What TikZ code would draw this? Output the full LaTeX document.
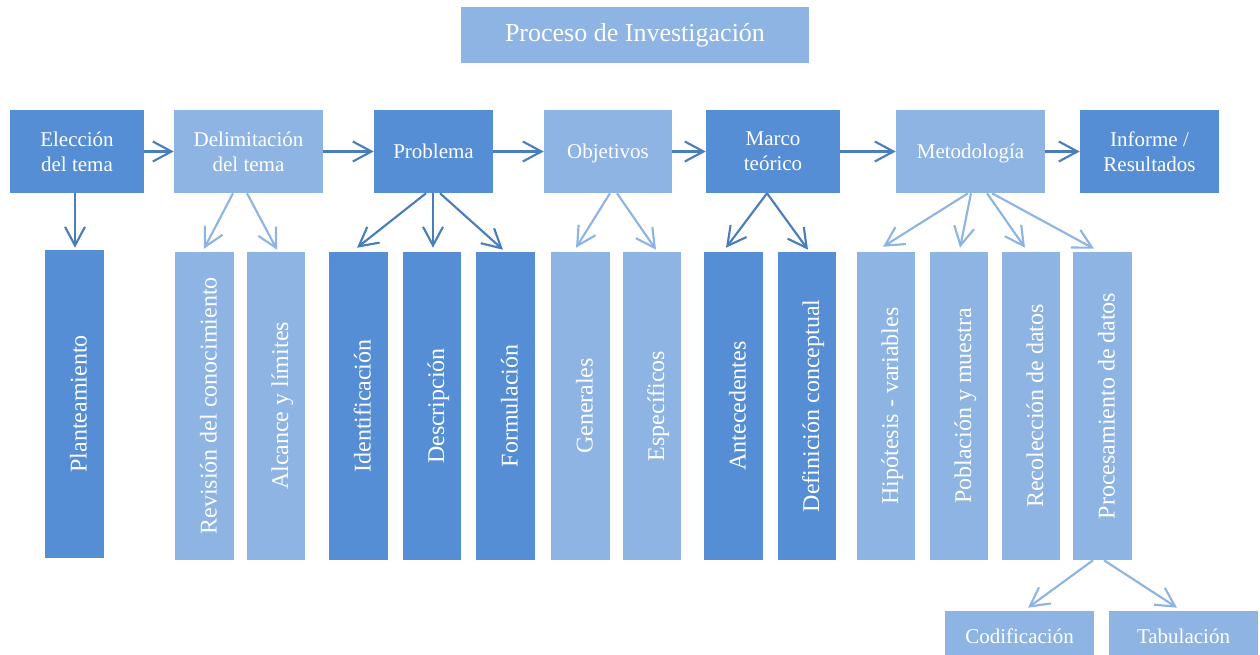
\documentclass[tikz,border=0pt]{standalone}
\usepackage{fontspec}
\setmainfont{Liberation Serif}
\usetikzlibrary{arrows.meta}
\definecolor{dk}{HTML}{558ED5}
\definecolor{lt}{HTML}{8EB4E3}
\definecolor{dka}{HTML}{4A7EBB}
\def\pxu{0.75pt}
\begin{document}
\begin{tikzpicture}[x=0.75pt,y=-0.75pt,
  box/.style={draw=none, inner sep=0pt, text=white, align=center,
    font=\fontsize{15.75}{18.75}\selectfont},
  dkbox/.style={box, fill=dk},
  ltbox/.style={box, fill=lt},
  topbox/.style={minimum height=83*\pxu},
  vbox/.style={minimum width=#1*\pxu, minimum height=308*\pxu},
  vtext/.style={text=white, rotate=90, anchor=base, inner sep=0pt,
    font=\fontsize{18}{21}\selectfont},
  arr/.style={-{Straight Barb[length=14pt,width=15pt]}, line width=1.6pt},
  darr/.style={arr, draw=dka},
  larr/.style={arr, draw=lt}]
\useasboundingbox (0,0) rectangle (1260,655);

% title
\node[ltbox, minimum width=348*\pxu, minimum height=56*\pxu,
  font=\fontsize{19.5}{23}\selectfont] (title) at (635,35) {Proceso de Investigación};

% top row
\node[dkbox, topbox, minimum width=134*\pxu] (eleccion) at (77,151.5) {Elección\\del tema};
\node[ltbox, topbox, minimum width=149*\pxu] (delim) at (248.5,151.5) {Delimitación\\del tema};
\node[dkbox, topbox, minimum width=119*\pxu, text depth=0pt] (problema) at (433.5,151.5) {Problema};
\node[ltbox, topbox, minimum width=128*\pxu, text depth=0pt] (objetivos) at (608,151.5) {Objetivos};
\node[dkbox, topbox, minimum width=134*\pxu] (marco) at (773,151.5) {Marco\\teórico};
\node[ltbox, topbox, minimum width=149*\pxu, text depth=0pt] (metod) at (970.5,151.5) {Metodología};
\node[dkbox, topbox, minimum width=139*\pxu] (informe) at (1149.5,151.5) {Informe /\\Resultados};

% vertical boxes
\node[dkbox, vbox=59] (plant) at (74.5,404) {};
\node[ltbox, vbox=59] (revision) at (204.5,406) {};
\node[ltbox, vbox=58] (alcance) at (276,406) {};
\node[dkbox, vbox=59] (ident) at (358.5,406) {};
\node[dkbox, vbox=58] (descr) at (432,406) {};
\node[dkbox, vbox=59] (formul) at (505.5,406) {};
\node[ltbox, vbox=59] (generales) at (580.5,406) {};
\node[ltbox, vbox=58] (especif) at (652,406) {};
\node[dkbox, vbox=59] (antec) at (733.5,406) {};
\node[dkbox, vbox=58] (defin) at (807,406) {};
\node[ltbox, vbox=58] (hipot) at (886,406) {};
\node[ltbox, vbox=58] (pobl) at (959,406) {};
\node[ltbox, vbox=58] (recol) at (1031,406) {};
\node[ltbox, vbox=59] (proces) at (1102.5,406) {};

% vertical texts
\node[vtext] (tplant) at ([xshift=12*\pxu]plant.center) {Planteamiento};
\node[vtext] (trevision) at ([xshift=12*\pxu]revision.center) {Revisión del conocimiento};
\node[vtext] (talcance) at ([xshift=12*\pxu]alcance.center) {Alcance y límites};
\node[vtext] (tident) at ([xshift=12*\pxu]ident.center) {Identificación};
\node[vtext] (tdescr) at ([xshift=12*\pxu]descr.center) {Descripción};
\node[vtext] (tformul) at ([xshift=12*\pxu]formul.center) {Formulación};
\node[vtext] (tgenerales) at ([xshift=12*\pxu]generales.center) {Generales};
\node[vtext] (tespecif) at ([xshift=12*\pxu]especif.center) {Específicos};
\node[vtext] (tantec) at ([xshift=12*\pxu]antec.center) {Antecedentes};
\node[vtext] (tdefin) at ([xshift=12*\pxu]defin.center) {Definición conceptual};
\node[vtext] (thipot) at ([xshift=12*\pxu]hipot.center) {Hipótesis - variables};
\node[vtext] (tpobl) at ([xshift=12*\pxu]pobl.center) {Población y muestra};
\node[vtext] (trecol) at ([xshift=12*\pxu]recol.center) {Recolección de datos};
\node[vtext] (tproces) at ([xshift=12*\pxu]proces.center) {Procesamiento de datos};

% bottom boxes
\node[ltbox, minimum width=149*\pxu, minimum height=50*\pxu, text depth=0pt] (cod) at (1019.5,636) {Codificación};
\node[ltbox, minimum width=149*\pxu, minimum height=50*\pxu, text depth=0pt] (tab) at (1183.5,636) {Tabulación};

% horizontal arrows
\draw[darr] (eleccion) -- (delim);
\draw[darr] (delim) -- (problema);
\draw[darr] (problema) -- (objetivos);
\draw[darr] (objetivos) -- (marco);
\draw[darr] (marco) -- (metod);
\draw[darr] (metod) -- (informe);

% downward arrows
\draw[darr] ([xshift=-2*\pxu]eleccion.south) -- ([xshift=0.5*\pxu,yshift=2*\pxu]plant.north);
\draw[larr] ([xshift=-15.5*\pxu]delim.south) -- ([xshift=-0.5*\pxu,yshift=3*\pxu]revision.north);
\draw[larr] ([xshift=-1.5*\pxu]delim.south) -- ([xshift=1*\pxu,yshift=2*\pxu]alcance.north);
\draw[darr] ([xshift=-7.5*\pxu]problema.south) -- ([xshift=-1.5*\pxu,yshift=4*\pxu]ident.north);
\draw[darr] ([xshift=-0.5*\pxu]problema.south) -- ([xshift=1*\pxu,yshift=4*\pxu]descr.north);
\draw[darr] ([xshift=6.5*\pxu]problema.south) -- ([xshift=-2.5*\pxu,yshift=2*\pxu]formul.north);
\draw[larr] ([xshift=2*\pxu]objetivos.south) -- ([xshift=-4.5*\pxu,yshift=4*\pxu]generales.north);
\draw[larr] ([xshift=9*\pxu]objetivos.south) -- ([xshift=4*\pxu,yshift=2*\pxu]especif.north);
\draw[darr] ([xshift=-6*\pxu]marco.south) -- ([xshift=-7.5*\pxu,yshift=4*\pxu]antec.north);
\draw[darr] ([xshift=-6*\pxu]marco.south) -- ([xshift=1*\pxu,yshift=2*\pxu]defin.north);
\draw[larr] ([xshift=-2.5*\pxu]metod.south) -- ([xshift=-3*\pxu,yshift=5*\pxu]hipot.north);
\draw[larr] ([xshift=0.5*\pxu]metod.south) -- ([xshift=1*\pxu,yshift=4*\pxu]pobl.north);
\draw[larr] ([xshift=16.5*\pxu]metod.south) -- ([xshift=-6*\pxu,yshift=4*\pxu]recol.north);
\draw[larr] ([xshift=21.5*\pxu]metod.south) -- ([xshift=-8.5*\pxu,yshift=3*\pxu]proces.north);
\draw[larr] ([xshift=-9.5*\pxu]proces.south) -- ([xshift=8.5*\pxu,yshift=3*\pxu]cod.north);
\draw[larr] ([xshift=1.5*\pxu]proces.south) -- ([xshift=-6.5*\pxu,yshift=3*\pxu]tab.north);
\end{tikzpicture}
\end{document}
